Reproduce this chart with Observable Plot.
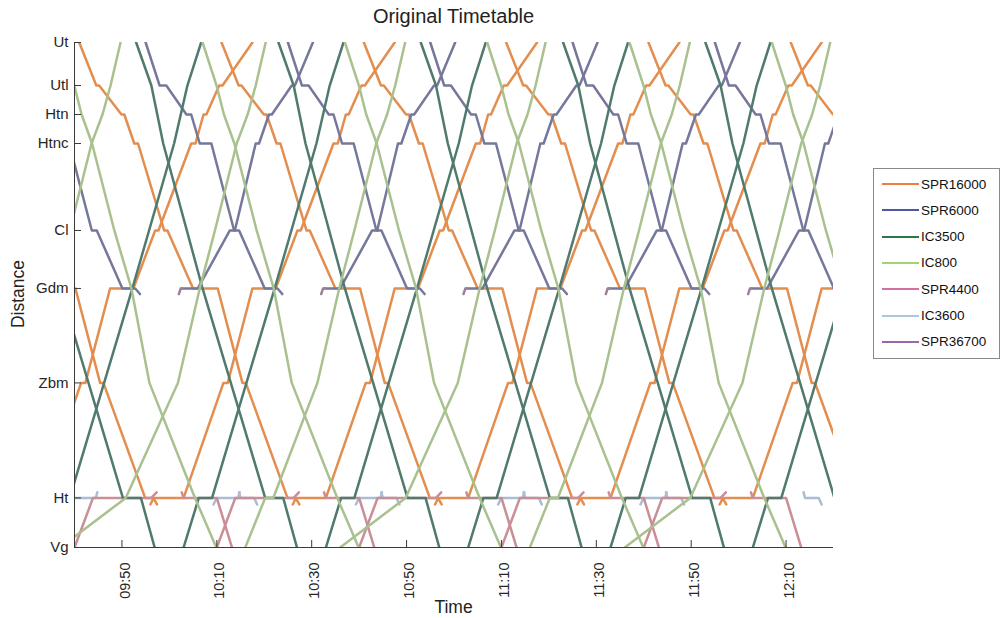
<!DOCTYPE html>
<html><head><meta charset="utf-8">
<script src="https://cdn.jsdelivr.net/npm/d3@7"></script>
<script src="https://cdn.jsdelivr.net/npm/@observablehq/plot@0.6"></script>
<style>
body{margin:0;background:#fff;font-family:"Liberation Sans",Arial,Helvetica,sans-serif;}
#wrap{position:relative;width:1002px;height:618px;overflow:hidden;background:#fff;}
#chart{position:absolute;left:0;top:0;}
#title{position:absolute;left:74px;width:759px;top:5px;text-align:center;font-size:20px;color:#222;}
#xlab{position:absolute;left:74px;width:759px;top:597px;text-align:center;font-size:17.5px;color:#222;}
#ylab{position:absolute;left:18px;top:294px;transform:translate(-50%,-50%) rotate(-90deg);font-size:17.5px;color:#222;white-space:nowrap;}
#legend{position:absolute;left:873px;top:168px;width:127px;height:191px;border:1px solid #8a8a8a;background:#fff;box-sizing:border-box;}
.li{position:absolute;left:8px;height:14px;display:flex;align-items:center;font-size:13.5px;color:#111;}
.li span.sw{display:inline-block;width:37px;height:2px;margin-right:2px;}
</style></head><body>
<div id="wrap"><div id="chart"></div><div id="title"></div><div id="xlab"></div><div id="ylab"></div><div id="legend"></div></div>
<script>
// ---------- stations (distance along the line, km) ----------
const stations  = ["Ut", "Utl", "Htn", "Htnc", "Cl", "Gdm", "Zbm", "Ht", "Vg"];
const stationKm = [0, 4.6, 7.7, 10.8, 20.1, 26.3, 36.4, 48.7, 54.0];
// short track stubs just beyond a station (siding / onward branch)
const spurs  = ["Gdm'", "Ht'", "Ht^"];
const spurKm = [26.9, 49.4, 48.1];

// ---------- series ----------
const lineNames    = ["SPR16000", "SPR6000", "IC3500", "IC800", "SPR4400", "IC3600", "SPR36700"];
const lineColors   = ["#e38d4f", "#76789b", "#517a6f", "#a9c18f", "#c98e96", "#a9bdd3", "#9b8099"];
const legendColors = ["#ef7f3c", "#4b5a9e", "#2a7846", "#a3d270", "#d46fa2", "#a9c8de", "#9868aa"];
const drawOrder    = ["SPR16000", "SPR6000", "IC3600", "SPR4400", "IC3500", "IC800", "SPR36700"];

// ---------- axis ----------
const timeDomain = ["09:40", "12:20"];
const xTickTimes = ["09:50", "10:10", "10:30", "10:50", "11:10", "11:30", "11:50", "12:10"];

// ---------- timetable patterns (stop sequence, minutes from reference time, reference times) ----------
const spr16000SouthStops  = ["Ut","Utl","Utl","Htn","Htn","Htnc","Htnc","Cl","Cl","Gdm","Gdm","Zbm","Zbm","Ht","Ht","Ht'"];
const spr16000SouthMins   = [0, 3.6, 4.2, 8.9, 9.5, 11.6, 12.4, 17.9, 18.6, 24.0, 29.2, 34.4, 35.1, 43.9, 45.6, 46.4];
const spr16000SouthStarts = ["09:11", "09:41", "10:11", "10:41", "11:11", "11:41", "12:11"];

const spr16000NorthStops  = ["Ht'","Ht","Ht","Zbm","Zbm","Gdm","Gdm","Cl","Cl","Htnc","Htnc","Htn","Htn","Utl","Utl","Ut"];
const spr16000NorthMins   = [-7.0, -6.3, 0, 8.4, 9.3, 14.5, 19.4, 24.0, 24.7, 31.6, 32.5, 34.2, 34.8, 37.5, 38.2, 44.5];
const spr16000NorthStarts = ["09:33", "10:03", "10:33", "11:03", "11:33", "12:03"];

const spr6000SouthStops  = ["Ut","Utl","Utl","Htn","Htn","Htnc","Htnc","Cl","Cl","Gdm","Gdm","Gdm'"];
const spr6000SouthMins   = [0, 2.95, 4.35, 8.6, 9.6, 11.4, 13.85, 18.65, 19.7, 25.1, 27.8, 28.8];
const spr6000SouthStarts = ["09:25", "09:55", "10:25", "10:55", "11:25", "11:55"];

const spr6000NorthStops  = ["Gdm","Gdm","Cl","Cl","Htnc","Htnc","Htn","Htn","Utl","Utl","Ut"];
const spr6000NorthMins   = [-3.4, 0, 6.75, 7.8, 12.2, 12.9, 15.0, 15.6, 19.8, 20.45, 24.25];
const spr6000NorthStarts = ["10:06", "10:36", "11:06", "11:36", "12:06"];

const spr36700Stops  = ["Gdm'", "Gdm", "Gdm"];
const spr36700Mins   = [0, 0.4, 0.8];
const spr36700Starts = ["10:02", "10:32", "11:02", "11:32", "12:02"];

const ic3500SouthStops  = ["Ut","Utl","Htnc","Gdm","Ht","Ht","Vg"];
const ic3500SouthMins   = [0, 3.2, 5.7, 14.0, 27.2, 31.0, 33.9];
const ic3500SouthStarts = ["09:23", "09:53", "10:23", "10:53", "11:23", "11:53"];

const ic3500NorthStops  = ["Vg","Ht","Ht","Gdm","Htnc","Utl","Ut"];
const ic3500NorthMins   = [0, 3.2, 6.0, 19.2, 28.0, 30.8, 33.7];
const ic3500NorthStarts = ["09:33", "10:03", "10:33", "11:03", "11:33", "12:03"];

const ic800SouthStops  = ["Ut","Utl","Htn","Htnc","Cl","Gdm","Zbm","Ht","Vg"];
const ic800SouthMins   = [0, 2.95, 4.5, 6.7, 11.4, 15.0, 18.8, 28.4, 32.9];
const ic800SouthStarts = ["09:37", "10:07", "10:37", "11:07", "11:37", "12:07"];

const ic800NorthAStops  = ["Vg","Ht","Zbm","Gdm","Cl","Htnc","Htn","Utl","Ut"];
const ic800NorthAMins   = [0, 13.8, 24.8, 29.4, 32.6, 37.2, 39.5, 41.2, 43.3];
const ic800NorthAStarts = ["09:37", "10:36", "11:36"];

const ic800NorthBStops  = ["Vg","Ht","Ht","Zbm","Gdm","Cl","Htnc","Htn","Utl","Ut"];
const ic800NorthBMins   = [0, 4.2, 5.9, 15.2, 19.8, 23.0, 27.6, 29.9, 31.6, 33.7];
const ic800NorthBStarts = ["09:16", "10:16", "11:16"];

const spr4400SouthStops  = ["Ht^", "Ht", "Ht", "Vg"];
const spr4400SouthMins   = [-7.4, -7.0, 0, 3.2];
const spr4400SouthStarts = ["10:10", "10:40", "11:10", "11:40", "12:10"];

const spr4400NorthStops  = ["Vg", "Ht", "Ht", "Ht^"];
const spr4400NorthMins   = [0, 3.9, 16.2, 17.3];
const spr4400NorthStarts = ["09:40", "10:10", "10:40", "11:10", "11:40"];

const ic3600AStops  = ["Ht'", "Ht", "Ht", "Ht^"];
const ic3600AMins   = [-0.7, 0, 4.5, 4.8];
const ic3600AStarts = ["09:40", "10:10", "10:40", "11:10", "11:40"];

const ic3600BStops  = ["Ht^", "Ht", "Ht", "Ht'"];
const ic3600BMins   = [-0.3, 0, 2.9, 3.5];
const ic3600BStarts = ["10:15", "10:45", "11:15", "11:45", "12:14"];

// ---------- build rows ----------
const toTime = s => { const [h, m] = s.split(":").map(Number); return new Date(Date.UTC(2024, 0, 1, h, m)); };
const kmOf = new Map([...stations.map((s, i) => [s, stationKm[i]]), ...spurs.map((s, i) => [s, spurKm[i]])]);
const rows = [];
function addTrains(line, tag, stops, mins, starts) {
  starts.forEach(st => {
    const t0 = toTime(st).getTime();
    stops.forEach((s, k) => rows.push({line, train: line + "|" + tag + "|" + st, time: new Date(t0 + mins[k] * 60000), km: kmOf.get(s)}));
  });
}
addTrains("SPR16000", "S", spr16000SouthStops, spr16000SouthMins, spr16000SouthStarts);
addTrains("SPR16000", "N", spr16000NorthStops, spr16000NorthMins, spr16000NorthStarts);
addTrains("SPR6000", "S", spr6000SouthStops, spr6000SouthMins, spr6000SouthStarts);
addTrains("SPR6000", "N", spr6000NorthStops, spr6000NorthMins, spr6000NorthStarts);
addTrains("SPR36700", "H", spr36700Stops, spr36700Mins, spr36700Starts);
addTrains("IC3500", "S", ic3500SouthStops, ic3500SouthMins, ic3500SouthStarts);
addTrains("IC3500", "N", ic3500NorthStops, ic3500NorthMins, ic3500NorthStarts);
addTrains("IC800", "S", ic800SouthStops, ic800SouthMins, ic800SouthStarts);
addTrains("IC800", "NA", ic800NorthAStops, ic800NorthAMins, ic800NorthAStarts);
addTrains("IC800", "NB", ic800NorthBStops, ic800NorthBMins, ic800NorthBStarts);
addTrains("SPR4400", "S", spr4400SouthStops, spr4400SouthMins, spr4400SouthStarts);
addTrains("SPR4400", "N", spr4400NorthStops, spr4400NorthMins, spr4400NorthStarts);
addTrains("IC3600", "A", ic3600AStops, ic3600AMins, ic3600AStarts);
addTrains("IC3600", "B", ic3600BStops, ic3600BMins, ic3600BStarts);

// ---------- plot ----------
const W = 1002, H = 618, mL = 74, mR = 169, mT = 42, mB = 71;
const innerW = W - mL - mR, innerH = H - mT - mB, tickLen = 7;
const axisColor = "#3a3a3a", textColor = "#262626";

const lineMarks = drawOrder.map(name => Plot.line(rows.filter(r => r.line === name), {
  x: "time", y: "km", z: "train",
  stroke: lineColors[lineNames.indexOf(name)], strokeWidth: 2.5, clip: true
}));

const chart = Plot.plot({
  width: W, height: H,
  marginLeft: mL, marginRight: mR, marginTop: mT, marginBottom: mB,
  style: {fontFamily: "Liberation Sans, Arial, Helvetica, sans-serif", fontSize: "14px", color: textColor, background: "white", overflow: "visible"},
  x: {type: "utc", domain: timeDomain.map(toTime)},
  y: {domain: [stationKm[0], stationKm[stationKm.length - 1]], reverse: true},
  marks: [
    ...lineMarks,
    Plot.ruleX([toTime(timeDomain[0])], {stroke: axisColor, strokeWidth: 1}),
    Plot.ruleY([stationKm[stationKm.length - 1]], {stroke: axisColor, strokeWidth: 1}),
    Plot.ruleY(stationKm, {y: d => d, insetRight: innerW - tickLen, stroke: axisColor}),
    Plot.ruleX(xTickTimes.map(toTime), {x: d => d, insetTop: innerH - tickLen, stroke: axisColor}),
    Plot.axisY(stationKm, {tickSize: 0, tickPadding: 6, label: null, fontSize: 15, fill: textColor,
      tickFormat: d => stations[stationKm.indexOf(d)]}),
    Plot.axisX(xTickTimes.map(toTime), {tickSize: 0, tickPadding: 15, tickRotate: -90, label: null, fontSize: 14.5, fill: textColor,
      dx: 3, tickFormat: d3.utcFormat("%H:%M")})
  ]
});
document.getElementById("chart").appendChild(chart);

document.getElementById("title").textContent = "Original Timetable";
document.getElementById("xlab").textContent = "Time";
document.getElementById("ylab").textContent = "Distance";

const lg = document.getElementById("legend");
lineNames.forEach((name, i) => {
  const d = document.createElement("div");
  d.className = "li";
  d.style.top = (8 + i * 26.3) + "px";
  const sw = document.createElement("span");
  sw.className = "sw"; sw.style.background = legendColors[i];
  d.appendChild(sw);
  d.appendChild(document.createTextNode(name));
  lg.appendChild(d);
});
</script>
</body></html>
